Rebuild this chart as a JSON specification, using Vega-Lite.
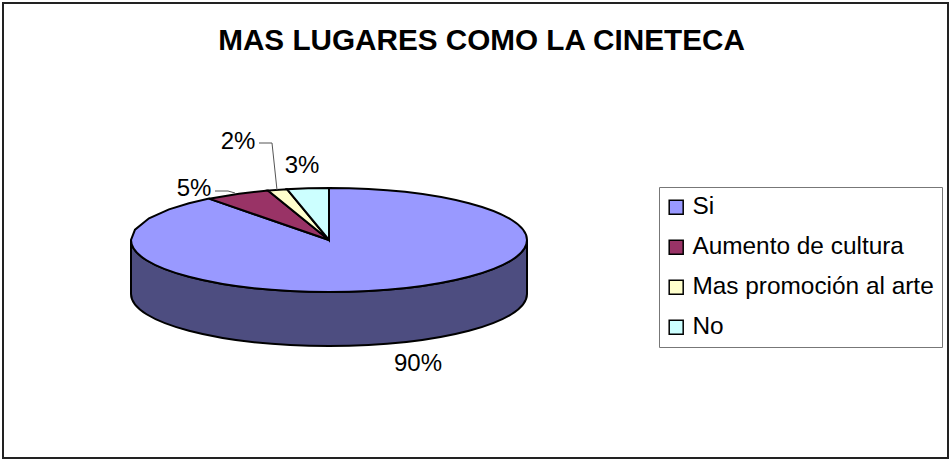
{
  "$schema": "https://vega.github.io/schema/vega-lite/v6.json",
  "width": 945,
  "height": 455,
  "padding": {"left": 3, "top": 3, "right": 1, "bottom": 1},
  "autosize": "none",
  "background": "white",
  "view": {"stroke": "#222222", "strokeWidth": 2, "fill": "white"},
  "title": {
    "text": "MAS LUGARES COMO LA CINETECA",
    "font": "Liberation Sans",
    "fontWeight": "bold",
    "fontSize": 29.7,
    "color": "black",
    "anchor": "middle",
    "frame": "group",
    "dx": 6,
    "baseline": "middle",
    "offset": -68
  },
  "datasets": {
    "respuestas": [
      {"respuesta": "Si", "porcentaje": 90},
      {"respuesta": "Aumento de cultura", "porcentaje": 5},
      {"respuesta": "Mas promoción al arte", "porcentaje": 2},
      {"respuesta": "No", "porcentaje": 3}
    ],
    "etiquetas": [
      {"etiqueta": "90%", "u": 0.445, "v": 0.62},
      {"etiqueta": "5%", "u": -0.675, "v": -0.255},
      {"etiqueta": "2%", "u": -0.455, "v": -0.49},
      {"etiqueta": "3%", "u": -0.135, "v": -0.37}
    ],
    "guias": [
      {"guia": "2%", "orden": 1, "u": -0.35, "v": -0.485},
      {"guia": "2%", "orden": 2, "u": -0.285, "v": -0.485},
      {"guia": "2%", "orden": 3, "u": -0.26, "v": -0.25},
      {"guia": "5%", "orden": 1, "u": -0.57, "v": -0.245},
      {"guia": "5%", "orden": 2, "u": -0.505, "v": -0.245},
      {"guia": "5%", "orden": 3, "u": -0.47, "v": -0.235}
    ]
  },
  "layer": [
    {
      "data": {"name": "respuestas"},
      "transform": [{"filter": "datum.respuesta === 'Si'"}],
      "mark": {
        "type": "point",
        "filled": true,
        "opacity": 1,
        "fill": "#4D4D80",
        "stroke": "black",
        "strokeWidth": 2,
        "size": 160000,
        "shape": "M -0.99 0 L -0.99 0.27 C -0.99 0.4136 -0.5468 0.53 0 0.53 C 0.5468 0.53 0.99 0.4136 0.99 0.27 L 0.99 0 C 0.99 0.1436 0.5468 0.26 0 0.26 C -0.5468 0.26 -0.99 0.1436 -0.99 0 Z"
      },
      "encoding": {
        "x": {"datum": 0, "type": "quantitative", "scale": {"domain": [-1.63, 3.095]}, "axis": null},
        "y": {"datum": 0, "type": "quantitative", "scale": {"domain": [1.09, -1.185]}, "axis": null}
      }
    },
    {
      "data": {"name": "respuestas"},
      "mark": {
        "type": "point",
        "filled": true,
        "opacity": 1,
        "stroke": "black",
        "strokeWidth": 2,
        "size": 160000
      },
      "encoding": {
        "x": {"datum": 0, "type": "quantitative", "scale": {"domain": [-1.63, 3.095]}, "axis": null},
        "y": {"datum": 0, "type": "quantitative", "scale": {"domain": [1.09, -1.185]}, "axis": null},
        "shape": {
          "field": "porcentaje",
          "type": "nominal",
          "legend": null,
          "scale": {
            "domain": [90, 5, 2, 3],
            "range": [
              "M 0 0 L 0 -0.26 C 0.5468 -0.26 0.99 -0.1436 0.99 0 C 0.99 0.1436 0.5468 0.26 0 0.26 C -0.5468 0.26 -0.99 0.1436 -0.99 0 L -0.97 -0.052 L -0.9 -0.1084 L -0.8 -0.1532 L -0.7 -0.1838 L -0.6 -0.2068 Z",
              "M 0 0 L -0.6 -0.2068 L -0.45 -0.2316 L -0.305 -0.2475 Z",
              "M 0 0 L -0.305 -0.2475 L -0.21 -0.254 Z",
              "M 0 0 L -0.21 -0.254 L -0.105 -0.2585 L 0 -0.26 Z"
            ]
          }
        },
        "fill": {
          "field": "respuesta",
          "type": "nominal",
          "sort": null,
          "scale": {
            "domain": ["Si", "Aumento de cultura", "Mas promoción al arte", "No"],
            "range": ["#9999FF", "#993366", "#FFFFCC", "#CCFFFF"]
          },
          "legend": {
            "title": null,
            "orient": "none",
            "legendX": 656,
            "legendY": 184,
            "symbolType": "square",
            "symbolSize": 196,
            "symbolOffset": -3,
            "symbolStrokeColor": "black",
            "symbolStrokeWidth": 1.5,
            "symbolOpacity": 1,
            "labelFont": "Liberation Sans",
            "labelFontSize": 24.4,
            "labelColor": "black",
            "labelLimit": 400,
            "labelOffset": 4,
            "rowPadding": 15,
            "strokeColor": "#777777",
            "fillColor": "white",
            "padding": 8
          }
        }
      }
    },
    {
      "data": {"name": "guias"},
      "mark": {"type": "line", "stroke": "#555555", "strokeWidth": 1, "interpolate": "linear"},
      "encoding": {
        "x": {"field": "u", "type": "quantitative", "scale": {"domain": [-1.63, 3.095]}, "axis": null},
        "y": {"field": "v", "type": "quantitative", "scale": {"domain": [1.09, -1.185]}, "axis": null},
        "detail": {"field": "guia"},
        "order": {"field": "orden"}
      }
    },
    {
      "data": {"name": "etiquetas"},
      "mark": {"type": "text", "font": "Liberation Sans", "fontSize": 24, "color": "black", "align": "center", "baseline": "middle"},
      "encoding": {
        "x": {"field": "u", "type": "quantitative", "scale": {"domain": [-1.63, 3.095]}, "axis": null},
        "y": {"field": "v", "type": "quantitative", "scale": {"domain": [1.09, -1.185]}, "axis": null},
        "text": {"field": "etiqueta"}
      }
    }
  ]
}
